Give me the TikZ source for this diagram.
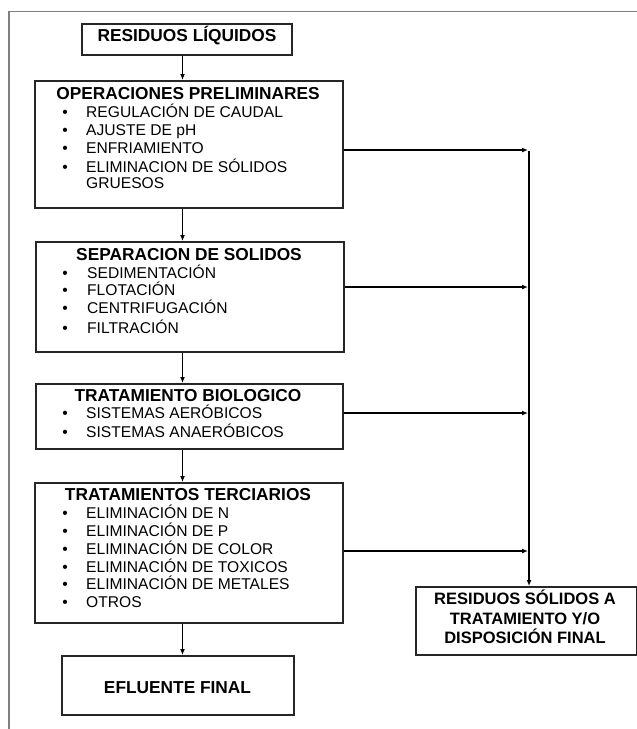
\documentclass[tikz,border=0pt]{standalone}
\usepackage{fontspec}
\setmainfont{Liberation Sans}
\usetikzlibrary{arrows.meta}
\begin{document}
\begin{tikzpicture}[x=1pt,y=-1pt,
  box/.style={draw=black!85, line width=1.7pt, rectangle, anchor=north west, inner sep=0pt},
  ttl/.style={font=\bfseries\fontsize{17.3}{20}\selectfont, anchor=base, inner sep=0pt},
  ttlr/.style={font=\bfseries\fontsize{16.5}{19}\selectfont, anchor=base, inner sep=0pt},
  itm/.style={font=\fontsize{15.6}{18}\selectfont, anchor=base west, inner sep=0pt},
  bul/.style={font=\fontsize{15.6}{18}\selectfont, anchor=base, inner sep=0pt},
  arr/.style={line width=1.7pt, -{Latex[length=6pt,width=5pt]}},
  ln/.style={line width=1.7pt}]
\useasboundingbox (0,0) rectangle (637,729);
% frame
\draw[color=black!50, line width=1.4pt] (9,729) -- (9,11.7) -- (637,11.7);
% boxes
\node[box, minimum width=210pt, minimum height=31pt] (b1) at (81,23) {};
\node[box, minimum width=308pt, minimum height=127pt] (b2) at (34,80) {};
\node[box, minimum width=308pt, minimum height=110pt] (b3) at (35,241) {};
\node[box, minimum width=307pt, minimum height=65pt] (b4) at (35,383) {};
\node[box, minimum width=308pt, minimum height=140pt] (b5) at (34,482) {};
\node[box, minimum width=221pt, minimum height=68pt] (b6) at (415,586) {};
\node[box, minimum width=232pt, minimum height=59pt] (b7) at (61,655) {};
% texts
\node[ttl] (t1) at (187,41) {RESIDUOS LÍQUIDOS};
\node[ttl] (t2) at (188,99) {OPERACIONES PRELIMINARES};
\foreach \y/\t [count=\i] in {117.6/REGULACIÓN DE CAUDAL, 135.6/AJUSTE DE pH, 153.6/ENFRIAMIENTO, 172.6/ELIMINACION DE SÓLIDOS}{
  \node[bul] (bb2\i) at (65,\y) {•};
  \node[itm] (i2\i) at (86,\y) {\t};
}
\node[itm] (i2g) at (86,188.6) {GRUESOS};
\node[ttl] (t3) at (189,260) {SEPARACION DE SOLIDOS};
\foreach \y/\t [count=\i] in {278.6/SEDIMENTACIÓN, 295.6/FLOTACIÓN, 313.6/CENTRIFUGACIÓN, 333.6/FILTRACIÓN}{
  \node[bul] (bb3\i) at (65,\y) {•};
  \node[itm] (i3\i) at (87,\y) {\t};
}
\node[ttl] (t4) at (188,401) {TRATAMIENTO BIOLOGICO};
\foreach \y/\t [count=\i] in {418.6/SISTEMAS AERÓBICOS, 437.6/SISTEMAS ANAERÓBICOS}{
  \node[bul] (bb4\i) at (65,\y) {•};
  \node[itm] (i4\i) at (86,\y) {\t};
}
\node[ttl] (t5) at (188,500) {TRATAMIENTOS TERCIARIOS};
\foreach \y/\t [count=\i] in {518.6/ELIMINACIÓN DE N, 536.6/ELIMINACIÓN DE P, 554.6/ELIMINACIÓN DE COLOR, 572.6/ELIMINACIÓN DE TOXICOS, 589.6/ELIMINACIÓN DE METALES, 607.6/OTROS}{
  \node[bul] (bb5\i) at (65,\y) {•};
  \node[itm] (i5\i) at (86,\y) {\t};
}
\node[ttlr] (t6a) at (525,604) {RESIDUOS SÓLIDOS A};
\node[ttlr] (t6b) at (525,624) {TRATAMIENTO Y/O};
\node[ttlr] (t6c) at (525,643) {DISPOSICIÓN FINAL};
\node[ttl] (t7) at (177.5,693) {EFLUENTE FINAL};
% connectors
\coordinate (mx) at (182.5,0);
\coordinate (r2) at (529,150);
\coordinate (r3) at (529,287);
\coordinate (r4) at (529,413);
\coordinate (r5) at (529,551);
\draw[arr] (b1.south -| mx) -- (b2.north -| mx);
\draw[arr] (b2.south -| mx) -- (b3.north -| mx);
\draw[arr] (b3.south -| mx) -- (b4.north -| mx);
\draw[arr] (b4.south -| mx) -- (b5.north -| mx);
\draw[arr] (b5.south -| mx) -- (b7.north -| mx);
\draw[arr] (b2.east |- r2) -- ([xshift=-1pt]r2);
\draw[arr] (b3.east |- r3) -- ([xshift=-1pt]r3);
\draw[arr] (b4.east |- r4) -- ([xshift=-1pt]r4);
\draw[arr] (b5.east |- r5) -- ([xshift=-1pt]r5);
\draw[arr] ([yshift=-0.85pt]r2) -- (b6.north -| r2);
\end{tikzpicture}
\end{document}
